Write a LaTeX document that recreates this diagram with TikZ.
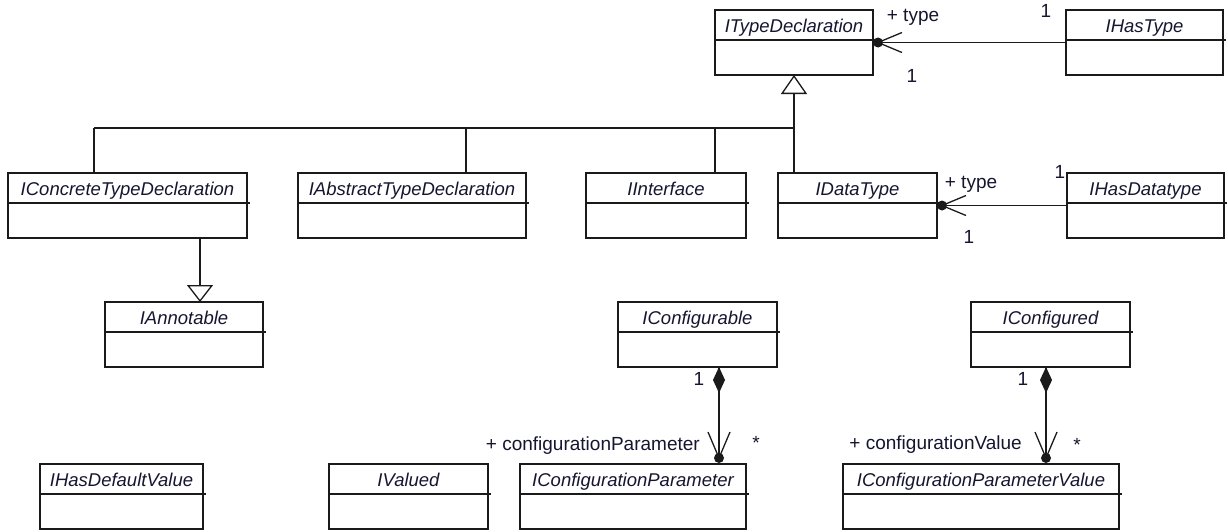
\documentclass[tikz,border=0pt]{standalone}
\usepackage{fontspec}
\setmainfont{Liberation Sans}
\usetikzlibrary{arrows.meta,calc}
\definecolor{ink}{HTML}{1A1A1A}
\definecolor{txt}{HTML}{151530}
\tikzset{
  umlline/.style={draw=ink, line width=1.3pt},
  clsbox/.style={draw=ink, line width=1.3pt, rectangle, inner sep=0pt, outer sep=0pt, minimum height=65pt},
  clsname/.style={font=\fontsize{18.5}{20}\selectfont\itshape, text=txt, inner sep=0pt, anchor=base},
  lbl/.style={font=\fontsize{19}{21}\selectfont, text=txt, inner sep=0pt, anchor=base},
  genarrow/.style={umlline, -{Triangle[open, length=19pt, width=26pt, line width=1.3pt]}},
  genarrowb/.style={umlline, -{Triangle[open, length=17pt, width=26pt, line width=1.3pt]}},
}
\newcommand\umlcls[5]{%
  \node[clsbox, minimum width={#3-#2}, anchor=north west] (#1) at (#2,-#4) {};
  \node[clsname] (#1-t) at ([yshift=-22pt]#1.north) {#5};
  \draw[umlline] ([yshift=-30pt]#1.north west) -- ([yshift=-30pt,xshift=3pt]#1.north east);
}
\begin{document}
\begin{tikzpicture}[x=1pt,y=1pt]
\useasboundingbox (0,0) rectangle (1228,-531);

% classes
\umlcls{tdecl}{715}{873}{10}{ITypeDeclaration}
\umlcls{hastype}{1066}{1223}{10}{IHasType}
\umlcls{conc}{8}{247}{173}{IConcreteTypeDeclaration}
\umlcls{abst}{298}{526}{173}{IAbstractTypeDeclaration}
\umlcls{intf}{586}{746}{173}{IInterface}
\umlcls{dtype}{778}{937}{173}{IDataType}
\umlcls{hasdt}{1067}{1224}{173}{IHasDatatype}
\umlcls{annot}{105}{263}{302}{IAnnotable}
\umlcls{confable}{618}{777}{302}{IConfigurable}
\umlcls{confed}{971}{1130}{302}{IConfigured}
\umlcls{hasdef}{40}{203}{464}{IHasDefaultValue}
\umlcls{valued}{329}{488}{464}{IValued}
\umlcls{cparam}{520}{746}{464}{IConfigurationParameter}
\umlcls{cpval}{843}{1119}{464}{IConfigurationParameterValue}

% generalization tree
\coordinate (bus) at (794,-128);
\coordinate (b1) at (94,-128);
\coordinate (b2) at (466,-128);
\coordinate (b3) at (715,-128);
\draw[umlline] (b1) -- (bus);
\draw[genarrow] (bus) -- (tdecl.south);
\draw[umlline] (b1) -- (b1 |- conc.north);
\draw[umlline] (b2) -- (b2 |- abst.north);
\draw[umlline] (b3) -- (b3 |- intf.north);
\draw[umlline] (bus) -- (bus |- dtype.north);

% IConcreteTypeDeclaration -> IAnnotable
\coordinate (ax) at (200,0);
\draw[genarrowb] (ax |- conc.south) -- (ax |- annot.north);

% IHasType -> ITypeDeclaration
\coordinate (d1) at ([xshift=5pt]tdecl.east);
\draw[umlline] (hastype.west) -- (tdecl.east);
\fill[ink] (d1) circle (5pt);
\draw[umlline] ([shift={(24,10)}]d1) -- (d1) -- ([shift={(24,-10)}]d1);
\node[lbl] (l1) at (913,-21) {+ type};
\node[lbl] (l2) at (1046,-17) {1};
\node[lbl] (l3) at (912,-82) {1};

% IHasDatatype -> IDataType
\coordinate (d2) at ([xshift=5pt]dtype.east);
\draw[umlline] (hasdt.west) -- (dtype.east);
\fill[ink] (d2) circle (5pt);
\draw[umlline] ([shift={(24,10)}]d2) -- (d2) -- ([shift={(24,-10)}]d2);
\node[lbl] (l4) at (971,-188) {+ type};
\node[lbl] (l5) at (1060,-178) {1};
\node[lbl] (l6) at (969,-243) {1};

% IConfigurable composition
\coordinate (cx1) at (719,0);
\coordinate (t1) at (cx1 |- confable.south);
\coordinate (p1) at (cx1 |- cparam.north);
\coordinate (e1) at ([yshift=6pt]p1);
\draw[umlline] (t1) -- (e1);
\fill[ink] (t1) -- ++(6,-13) -- ++(-6,-13) -- ++(-6,13) -- cycle;
\fill[ink] (e1) circle (5pt);
\draw[umlline] ([shift={(-11,26)}]e1) -- (e1) -- ([shift={(11,26)}]e1);
\node[lbl] (l7) at (699,-385) {1};
\node[lbl, anchor=base east] (l8) at (700,-450) {+ configurationParameter};
\node[lbl] (l9) at (756,-449) {*};

% IConfigured composition
\coordinate (cx2) at (1046,0);
\coordinate (t2) at (cx2 |- confed.south);
\coordinate (p2) at (cx2 |- cpval.north);
\coordinate (e2) at ([yshift=6pt]p2);
\draw[umlline] (t2) -- (e2);
\fill[ink] (t2) -- ++(6,-13) -- ++(-6,-13) -- ++(-6,13) -- cycle;
\fill[ink] (e2) circle (5pt);
\draw[umlline] ([shift={(-11,26)}]e2) -- (e2) -- ([shift={(11,26)}]e2);
\node[lbl] (l10) at (1023,-385) {1};
\node[lbl, anchor=base east] (l11) at (1022,-449) {+ configurationValue};
\node[lbl] (l12) at (1077,-451) {*};
\end{tikzpicture}
\end{document}
